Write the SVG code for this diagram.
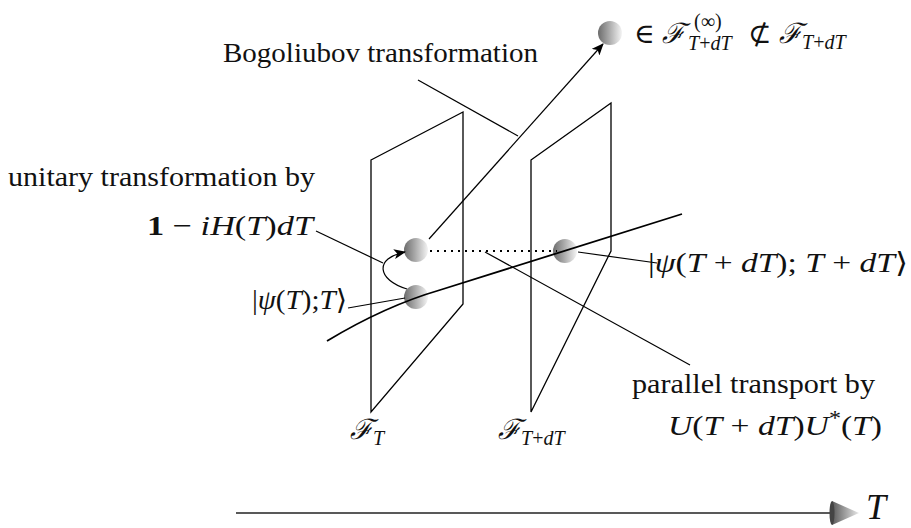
<svg xmlns="http://www.w3.org/2000/svg" width="911" height="528" viewBox="0 0 911 528">
<defs>
<linearGradient id="ball" x1="0" y1="0" x2="1" y2="0">
<stop offset="0" stop-color="#6c6c6c"/>
<stop offset="0.45" stop-color="#a8a8a8"/>
<stop offset="1" stop-color="#f4f4f4"/>
</linearGradient>
<linearGradient id="cone" x1="0" y1="0" x2="1" y2="0">
<stop offset="0" stop-color="#5a5a5a"/>
<stop offset="1" stop-color="#e8e8e8"/>
</linearGradient>
<marker id="arr" viewBox="0 0 12 10" refX="11" refY="5" markerWidth="12" markerHeight="10" markerUnits="userSpaceOnUse" orient="auto">
<path d="M0,0 L12,5 L0,10 L3,5 z" fill="#000"/>
</marker>
</defs>
<style>
.pl{fill:none;stroke:#000;stroke-width:1.3;stroke-linejoin:miter}
.ln{fill:none;stroke:#000;stroke-width:1.2}
.tk{fill:none;stroke:#000;stroke-width:1.8}
.t{font-size:28px;fill:#111}
.i{font-style:italic}
.sc{font-style:italic}
.sub{font-size:20px}
.big{font-size:36px}
</style>
<rect width="911" height="528" fill="#fff"/>

<g id="plane-T"><polygon class="pl" points="371,160 463,112 463,304 371,412"/></g>
<g id="plane-TdT"><polygon class="pl" points="531,160 611,103 611,251 531,412"/></g>

<g id="ball-top"><circle cx="610" cy="33" r="12" fill="url(#ball)"/></g>
<g id="ball-1"><circle cx="416" cy="250" r="12" fill="url(#ball)"/></g>
<g id="ball-2"><circle cx="416" cy="297" r="12" fill="url(#ball)"/></g>
<g id="ball-3"><circle cx="565" cy="251" r="12" fill="url(#ball)"/></g>

<g id="connectors">
<path class="tk" d="M327,341 Q385,306 440,290 L682,214"/>
<line x1="430" y1="251" x2="557" y2="251" stroke="#000" stroke-width="2" stroke-dasharray="2,5"/>
<line class="ln" x1="429" y1="239" x2="603" y2="44" marker-end="url(#arr)"/>
<line class="ln" x1="418" y1="80" x2="518" y2="136"/>
<line class="ln" x1="316" y1="231" x2="383" y2="263"/>
<path class="ln" d="M407,289 C377,280 374,258 405,252" marker-end="url(#arr)"/>
<line class="ln" x1="348" y1="308" x2="405" y2="298"/>
<line class="ln" x1="578" y1="252" x2="657" y2="263"/>
<line class="ln" x1="485" y1="252" x2="690" y2="365"/>
<line x1="236" y1="513" x2="832" y2="513" stroke="#222" stroke-width="1.6"/>
<polygon points="832,501 859,513 832,525" fill="url(#cone)"/>
<ellipse cx="832" cy="513" rx="2.5" ry="12" fill="#444"/>
</g>

<g id="labels" font-family="Liberation Serif, DejaVu Serif, serif">
<text class="t" x="223" y="62" textLength="315" lengthAdjust="spacingAndGlyphs">Bogoliubov transformation</text>
<text class="t" x="8" y="186" textLength="307" lengthAdjust="spacingAndGlyphs">unitary transformation by</text>
<text class="t" x="147" y="235" textLength="166" lengthAdjust="spacingAndGlyphs"><tspan font-weight="bold">1</tspan> − <tspan class="i">iH</tspan>(<tspan class="i">T</tspan>)<tspan class="i">dT</tspan></text>
<text class="t" x="252" y="309" textLength="95" lengthAdjust="spacingAndGlyphs">|<tspan class="i">ψ</tspan>(<tspan class="i">T</tspan>);<tspan class="i">T</tspan>⟩</text>
<text class="t" x="648" y="272" textLength="260" lengthAdjust="spacingAndGlyphs">|<tspan class="i">ψ</tspan>(<tspan class="i">T</tspan> + <tspan class="i">dT</tspan>); <tspan class="i">T</tspan> + <tspan class="i">dT</tspan>⟩</text>
<text class="t" x="632" y="393" textLength="243" lengthAdjust="spacingAndGlyphs">parallel transport by</text>
<text class="t" x="668" y="435" textLength="214" lengthAdjust="spacingAndGlyphs"><tspan class="i">U</tspan>(<tspan class="i">T</tspan> + <tspan class="i">dT</tspan>)<tspan class="i">U</tspan><tspan class="sub" dy="-10">*</tspan><tspan dy="10">(</tspan><tspan class="i">T</tspan>)</text>
<text class="t" x="350" y="439"><tspan class="sc" font-family="Noto Sans CJK SC, sans-serif">ℱ</tspan><tspan class="i sub" dy="6">T</tspan></text>
<text class="t" x="498" y="439"><tspan class="sc" font-family="Noto Sans CJK SC, sans-serif">ℱ</tspan><tspan class="i sub" dy="6">T</tspan><tspan class="sub">+</tspan><tspan class="i sub">dT</tspan></text>
<text class="t" x="634" y="43">∈</text>
<text class="t" x="662" y="43"><tspan class="sc" font-family="Noto Sans CJK SC, sans-serif">ℱ</tspan></text>
<text class="t sub" x="694" y="28">(∞)</text>
<text class="t sub" x="688" y="50"><tspan class="i">T</tspan>+<tspan class="i">dT</tspan></text>
<text class="t" x="748" y="43">⊄</text>
<text class="t" x="779" y="43"><tspan class="sc" font-family="Noto Sans CJK SC, sans-serif">ℱ</tspan><tspan class="i sub" dy="6">T</tspan><tspan class="sub">+</tspan><tspan class="i sub">dT</tspan></text>
<text class="t i big" x="866" y="519">T</text>
</g>
</svg>
